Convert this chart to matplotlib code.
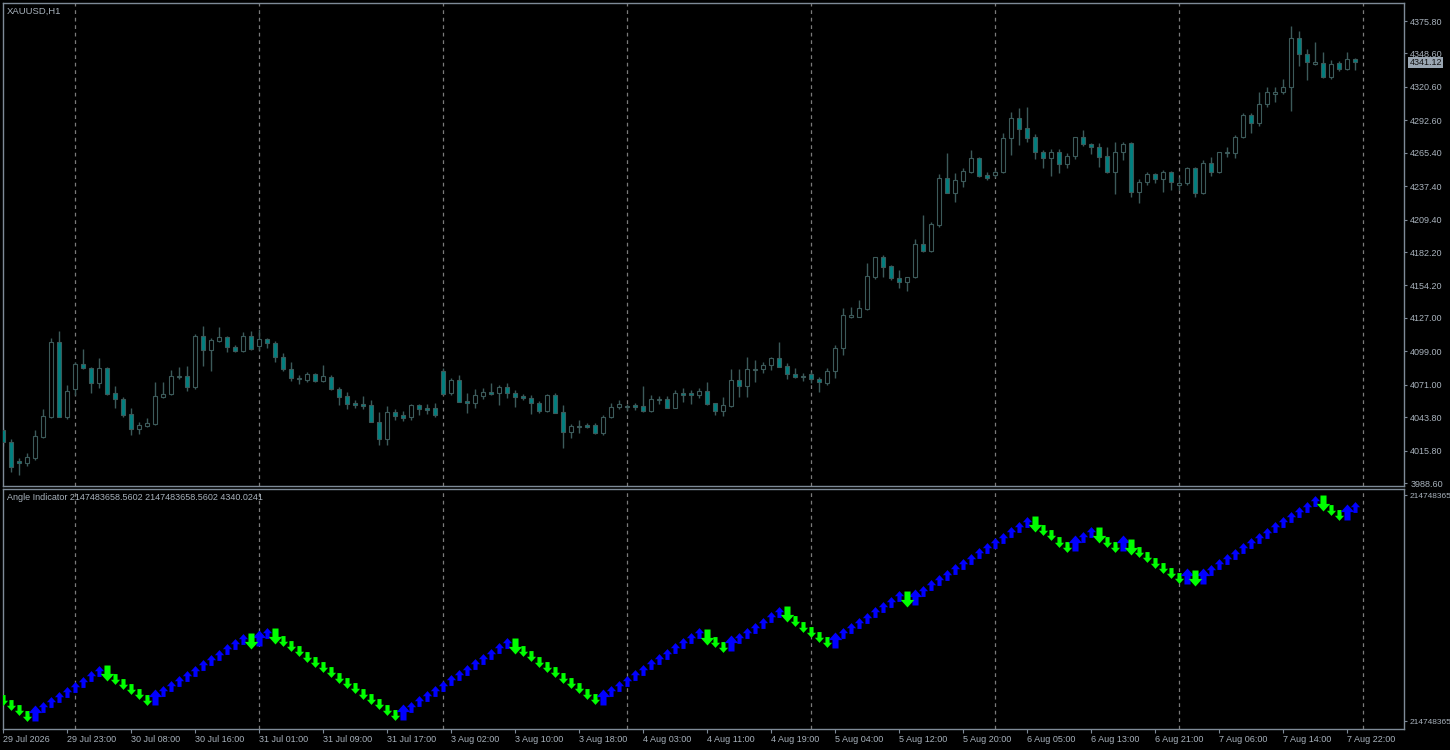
import numpy as np
import matplotlib
matplotlib.use("Agg")
import matplotlib.pyplot as plt
from matplotlib.path import Path

plt.rcParams["font.family"] = ["Liberation Sans", "DejaVu Sans"]

# XAUUSD H1 candles, one per bar (bar 0 = 29 Jul 2026 15:00)
opens = [
    4033.0, 4022.7, 4007.0, 4005.0, 4009.8, 4027.4, 4044.2, 4106.5, 4044.2, 4067.1,
    4088.0, 4084.7, 4072.1, 4084.7, 4063.7, 4058.7, 4046.1, 4033.5, 4036.6, 4038.0,
    4060.9, 4062.9, 4077.6, 4078.3, 4068.8, 4111.8, 4100.0, 4107.9, 4110.7, 4102.3,
    4099.5, 4111.8, 4103.7, 4109.0, 4105.6, 4094.5, 4083.8, 4076.9, 4074.9, 4079.6,
    4074.3, 4077.1, 4067.4, 4061.5, 4055.3, 4054.8, 4053.9, 4040.0, 4025.2, 4048.4,
    4045.6, 4043.6, 4053.9, 4051.1, 4051.1, 4082.4, 4063.7, 4074.9, 4057.3, 4055.9,
    4061.8, 4064.6, 4063.7, 4069.0, 4063.7, 4061.5, 4059.5, 4055.3, 4049.2, 4062.3,
    4047.8, 4031.6, 4036.6, 4037.2, 4037.2, 4030.2, 4043.6, 4052.0, 4053.4, 4053.9,
    4053.4, 4049.2, 4059.0, 4058.7, 4051.7, 4063.7, 4063.7, 4062.3, 4065.7, 4055.3,
    4049.2, 4053.4, 4074.9, 4070.1, 4083.3, 4083.8, 4087.4, 4093.0, 4086.6, 4079.6,
    4078.2, 4079.6, 4075.7, 4072.1, 4082.4, 4101.4, 4127.9, 4127.9, 4134.4, 4160.9,
    4177.7, 4170.4, 4160.6, 4157.3, 4160.9, 4188.8, 4183.2, 4205.1, 4243.9, 4231.9,
    4241.9, 4249.5, 4260.6, 4246.7, 4246.7, 4249.5, 4277.4, 4294.2, 4285.8, 4278.2,
    4265.7, 4261.2, 4266.2, 4255.6, 4262.6, 4278.3, 4272.7, 4270.4, 4262.6, 4249.5,
    4266.2, 4273.2, 4232.7, 4241.1, 4247.2, 4243.0, 4248.9, 4238.0, 4240.2, 4252.3,
    4231.9, 4256.5, 4249.5, 4264.8, 4264.8, 4278.3, 4297.0, 4290.0, 4305.9, 4315.0,
    4316.5, 4320.7, 4361.2, 4347.8, 4340.0, 4340.3, 4328.5, 4340.3, 4335.2, 4343.6,
]
highs = [
    4035.0, 4025.4, 4009.8, 4013.4, 4032.7, 4050.6, 4109.8, 4116.0, 4070.7, 4090.0,
    4100.9, 4086.0, 4093.1, 4086.1, 4069.9, 4060.9, 4051.2, 4040.0, 4042.8, 4073.5,
    4073.5, 4083.3, 4086.1, 4086.6, 4113.2, 4120.2, 4109.8, 4119.0, 4111.8, 4104.2,
    4115.4, 4116.0, 4117.6, 4109.8, 4107.6, 4097.2, 4090.3, 4079.1, 4081.9, 4080.5,
    4087.5, 4079.1, 4068.8, 4065.1, 4058.1, 4061.5, 4058.1, 4047.8, 4053.1, 4050.3,
    4048.9, 4054.8, 4054.8, 4054.8, 4055.3, 4084.7, 4076.3, 4079.1, 4063.7, 4067.1,
    4067.9, 4072.1, 4070.7, 4072.1, 4066.5, 4062.9, 4062.3, 4057.3, 4063.2, 4063.7,
    4053.9, 4038.0, 4041.4, 4038.6, 4038.6, 4045.6, 4055.3, 4058.1, 4054.5, 4055.3,
    4069.9, 4062.3, 4061.8, 4061.8, 4066.5, 4067.9, 4066.5, 4067.9, 4073.5, 4055.3,
    4060.9, 4084.1, 4084.1, 4094.4, 4091.6, 4090.2, 4094.4, 4107.0, 4088.8, 4084.6,
    4080.4, 4081.8, 4077.6, 4084.6, 4104.2, 4134.9, 4136.3, 4141.9, 4172.6, 4178.2,
    4179.6, 4171.2, 4167.0, 4161.5, 4193.0, 4213.1, 4207.6, 4247.5, 4264.8, 4248.1,
    4252.3, 4267.6, 4262.0, 4249.5, 4250.9, 4281.6, 4299.8, 4302.6, 4303.4, 4281.0,
    4267.6, 4268.5, 4268.5, 4264.8, 4278.8, 4284.4, 4273.8, 4273.2, 4270.4, 4274.1,
    4274.6, 4274.6, 4243.3, 4248.9, 4248.6, 4250.9, 4250.3, 4245.3, 4253.7, 4253.7,
    4259.2, 4262.0, 4266.2, 4269.9, 4280.2, 4298.4, 4298.4, 4316.0, 4320.7, 4320.7,
    4326.9, 4371.6, 4367.4, 4352.0, 4357.9, 4349.5, 4343.1, 4342.5, 4350.1, 4344.5,
]
lows = [
    4020.0, 3998.1, 3995.3, 4003.1, 4007.8, 4026.6, 4042.8, 4044.0, 4042.2, 4062.3,
    4084.0, 4063.7, 4067.9, 4062.3, 4051.2, 4044.2, 4028.8, 4029.4, 4035.8, 4037.2,
    4060.1, 4062.3, 4075.7, 4066.0, 4067.1, 4086.9, 4082.7, 4106.5, 4098.1, 4098.6,
    4098.6, 4100.0, 4100.0, 4102.0, 4090.3, 4082.7, 4074.3, 4071.5, 4073.5, 4073.0,
    4073.0, 4066.5, 4053.9, 4050.3, 4051.7, 4050.6, 4039.5, 4020.4, 4020.4, 4041.4,
    4040.8, 4041.4, 4045.6, 4046.1, 4043.6, 4062.3, 4062.3, 4056.2, 4047.0, 4051.1,
    4059.0, 4062.3, 4053.9, 4059.5, 4052.5, 4058.1, 4046.1, 4047.0, 4048.4, 4047.0,
    4018.2, 4026.0, 4030.2, 4034.4, 4029.4, 4028.8, 4042.8, 4050.3, 4049.8, 4049.8,
    4048.4, 4048.4, 4054.8, 4051.1, 4051.1, 4056.7, 4055.0, 4059.5, 4053.9, 4045.5,
    4044.7, 4052.0, 4060.9, 4060.9, 4073.5, 4080.4, 4083.2, 4085.6, 4075.4, 4076.2,
    4074.3, 4072.6, 4065.1, 4070.7, 4076.2, 4095.8, 4126.5, 4127.4, 4133.5, 4159.5,
    4161.5, 4158.7, 4151.7, 4149.7, 4160.1, 4182.4, 4182.4, 4203.4, 4231.3, 4224.3,
    4236.3, 4248.6, 4245.3, 4242.5, 4245.3, 4248.1, 4263.4, 4271.8, 4274.6, 4259.8,
    4252.3, 4246.1, 4248.6, 4252.3, 4259.8, 4271.0, 4264.3, 4253.7, 4248.6, 4230.8,
    4259.2, 4228.5, 4222.9, 4238.3, 4239.7, 4232.7, 4234.1, 4234.1, 4238.3, 4228.5,
    4230.8, 4245.8, 4248.6, 4262.0, 4261.2, 4277.4, 4282.2, 4287.8, 4303.4, 4307.6,
    4314.6, 4300.6, 4338.3, 4326.3, 4338.9, 4327.7, 4327.1, 4334.1, 4334.7, 4334.7,
]
closes = [
    4022.6, 4002.3, 4005.0, 4010.1, 4028.0, 4044.7, 4106.5, 4044.2, 4065.7, 4088.0,
    4084.7, 4072.1, 4084.7, 4063.4, 4059.0, 4045.6, 4033.5, 4037.2, 4038.6, 4061.5,
    4063.2, 4078.3, 4078.6, 4068.8, 4111.8, 4100.0, 4108.4, 4110.7, 4102.3, 4099.5,
    4111.8, 4100.9, 4109.0, 4105.6, 4094.5, 4083.8, 4076.3, 4075.7, 4079.6, 4074.1,
    4078.3, 4067.1, 4060.9, 4054.8, 4053.9, 4053.4, 4040.0, 4025.2, 4048.4, 4045.0,
    4043.3, 4053.9, 4050.3, 4049.8, 4045.6, 4063.2, 4074.9, 4056.7, 4055.9, 4062.3,
    4064.6, 4063.4, 4069.0, 4063.7, 4060.9, 4059.5, 4055.3, 4049.2, 4062.3, 4047.5,
    4031.6, 4036.3, 4035.8, 4035.8, 4030.2, 4043.6, 4052.3, 4054.5, 4052.0, 4052.5,
    4049.2, 4058.7, 4058.1, 4051.7, 4063.7, 4062.0, 4062.0, 4065.7, 4054.8, 4049.2,
    4053.9, 4074.9, 4070.1, 4084.1, 4084.1, 4087.4, 4093.0, 4086.0, 4079.9, 4077.6,
    4077.1, 4075.4, 4072.9, 4082.4, 4101.4, 4129.3, 4129.3, 4134.9, 4162.0, 4177.7,
    4169.8, 4160.1, 4157.3, 4160.9, 4188.8, 4183.2, 4205.6, 4243.9, 4231.9, 4242.5,
    4250.0, 4260.6, 4246.1, 4243.9, 4249.5, 4277.4, 4294.2, 4285.2, 4278.0, 4265.7,
    4261.2, 4266.2, 4255.6, 4262.6, 4278.3, 4272.4, 4270.4, 4262.0, 4249.5, 4266.2,
    4272.4, 4232.7, 4241.1, 4247.2, 4243.0, 4248.9, 4241.1, 4240.2, 4252.3, 4231.9,
    4256.5, 4249.5, 4265.7, 4265.7, 4278.3, 4297.0, 4290.0, 4305.9, 4316.0, 4316.1,
    4320.7, 4361.2, 4347.8, 4341.1, 4341.1, 4328.5, 4339.4, 4335.2, 4343.6, 4341.12,
]

price_ticks = [3988.60, 4015.80, 4043.80, 4071.00, 4099.00, 4127.00, 4154.20,
               4182.20, 4209.40, 4237.40, 4265.40, 4292.60, 4320.60, 4348.60, 4375.80]
last_price = 4341.12

time_tick_bars = list(range(0, 170, 8))
time_labels = ["29 Jul 2026", "29 Jul 23:00", "30 Jul 08:00", "30 Jul 16:00", "31 Jul 01:00",
               "31 Jul 09:00", "31 Jul 17:00", "3 Aug 02:00", "3 Aug 10:00", "3 Aug 18:00",
               "4 Aug 03:00", "4 Aug 11:00", "4 Aug 19:00", "5 Aug 04:00", "5 Aug 12:00",
               "5 Aug 20:00", "6 Aug 05:00", "6 Aug 13:00", "6 Aug 21:00", "7 Aug 06:00",
               "7 Aug 14:00", "7 Aug 22:00"]
grid_bars = [9, 32, 55, 78, 101, 124, 147, 170]

# Angle Indicator: arrow per bar (u/d = small up/down, U/D = signal arrow)
arrow_code = "".join([
    "ddddUuuuuu", "uuuDdddddU", "uuuuuuuuuu", "uDUuDddddd", "dddddddddd",
    "Uuuuuuuuuu", "uuuuDddddd", "dddddUuuuu", "uuuuuuuuDd", "dUuuuuuuDd",
    "ddddUuuuuu", "uuuDUuuuuu", "uuuuuuuuuD", "ddddUuuDdd", "UDddddddUD",
    "Uuuuuuuuuu", "uuuuuDddUu",
])
arrow_level = [
    29, 24, 19, 13, 16, 22, 27, 32, 37, 42,
    47, 53, 58, 56, 50, 45, 40, 35, 29, 32,
    38, 43, 48, 53, 58, 64, 69, 74, 80, 85,
    90, 88, 91, 96, 93, 88, 83, 78, 72, 67,
    62, 57, 51, 46, 41, 35, 30, 25, 19, 14,
    17, 22, 28, 33, 38, 43, 49, 54, 59, 65,
    70, 75, 81, 86, 83, 78, 73, 67, 62, 57,
    51, 46, 41, 35, 30, 32, 38, 43, 48, 54,
    59, 65, 70, 75, 81, 86, 91, 96, 92, 87,
    82, 86, 91, 96, 101, 106, 112, 117, 115, 108,
    102, 97, 92, 87, 89, 96, 101, 106, 111, 117,
    122, 127, 133, 130, 132, 138, 144, 149, 154, 160,
    165, 170, 176, 181, 186, 191, 197, 202, 207, 205,
    199, 194, 187, 182, 186, 192, 197, 194, 187, 182,
    186, 182, 177, 172, 166, 161, 156, 151, 153, 151,
    153, 159, 165, 170, 175, 181, 186, 191, 196, 202,
    207, 212, 217, 222, 228, 226, 219, 214, 217, 222,
]
angle_ticks = [8, 234]
angle_tick_labels = ["214748365", "214748365"]

BG = "black"
FRAME = "#7E8A97"
TXT = "#A8B2BC"
WICK = "#3C5A5A"
BEAR = "#008080"

W, H = 1450, 750
fig = plt.figure(figsize=(14.5, 7.5), dpi=100, facecolor=BG)
ax = fig.add_axes([3 / W, 1 - 486 / H, 1401 / W, 483 / H], facecolor=BG)
ax2 = fig.add_axes([3 / W, 1 - 729 / H, 1401 / W, 240 / H], facecolor=BG, sharex=ax)

o = np.array(opens)
h = np.array(highs)
l = np.array(lows)
c = np.array(closes)
x = np.arange(len(o))
bull = c >= o

ax.vlines(x, l, h, color=WICK, lw=1, zorder=2)
ax.bar(x[bull], np.maximum(c - o, 0.4)[bull], bottom=o[bull], width=0.6,
       facecolor=BG, edgecolor=WICK, linewidth=0.8, zorder=3)
ax.bar(x[~bull], np.maximum(o - c, 0.4)[~bull], bottom=c[~bull], width=0.6,
       facecolor=BEAR, edgecolor=WICK, linewidth=0.8, zorder=3)

# arrow markers
up_arrow = Path([(0, 1.0), (0.85, 0.05), (0.38, 0.05), (0.38, -1.0),
                 (-0.38, -1.0), (-0.38, 0.05), (-0.85, 0.05), (0, 1.0)])
down_arrow = Path([(vx, -vy) for vx, vy in up_arrow.vertices])

lvl = np.array(arrow_level)
codes = np.array(list(arrow_code))
xa = np.arange(len(lvl))
for code, marker, col, ms in [("u", up_arrow, "#0000FF", 7.8), ("d", down_arrow, "#00FF00", 7.8),
                              ("U", up_arrow, "#0000FF", 11.5), ("D", down_arrow, "#00FF00", 11.5)]:
    m = codes == code
    ax2.plot(xa[m], lvl[m], linestyle="none", marker=marker, markersize=ms,
             color=col, markeredgewidth=0, zorder=3)

for a in (ax, ax2):
    for gb in grid_bars:
        a.axvline(gb, color="#7A7A7A", lw=0.9, ls=(0, (3, 3)), zorder=1)
    for s in a.spines.values():
        s.set_color(FRAME)
        s.set_linewidth(1)
    a.yaxis.tick_right()
    a.tick_params(axis="y", direction="out", length=2.5, width=0.8, color=FRAME,
                  labelcolor=TXT, labelsize=6.5, pad=2)

ax.set_xlim(0, 1401 / 8)
ax.set_ylim(3986.1, 4390.9)
ax.set_yticks(price_ticks)
ax.set_yticklabels([f"{v:.2f}" for v in price_ticks])
ax.tick_params(axis="x", bottom=False, labelbottom=False)

ax2.set_ylim(0, 240)
ax2.set_yticks(angle_ticks)
ax2.set_yticklabels(angle_tick_labels)
ax2.tick_params(axis="y", labelsize=6.0, pad=1.2)
ax2.set_xticks(time_tick_bars)
ax2.set_xticklabels(time_labels)
ax2.tick_params(axis="x", direction="out", length=3, width=0.8, color=FRAME,
                labelcolor=TXT, labelsize=6.5, pad=1.5)
for lab in ax2.get_xticklabels():
    lab.set_ha("left")

ax.annotate(f"{last_price:.2f}", xy=(1, last_price), xycoords=("axes fraction", "data"),
            xytext=(4, 0), textcoords="offset points", ha="left", va="center",
            fontsize=6.5, color="#111111", annotation_clip=False, zorder=10,
            bbox=dict(boxstyle="square,pad=0.12", fc="#9AA6B2", ec="none"))

fig.text(7 / W, 1 - 11 / H, "XAUUSD,H1", color=TXT, fontsize=6.8, va="center", ha="left")
fig.text(7 / W, 1 - 497 / H, "Angle Indicator 2147483658.5602 2147483658.5602 4340.0241",
         color=TXT, fontsize=6.5, va="center", ha="left")

fig.savefig("out.png", dpi=100, facecolor=BG)
